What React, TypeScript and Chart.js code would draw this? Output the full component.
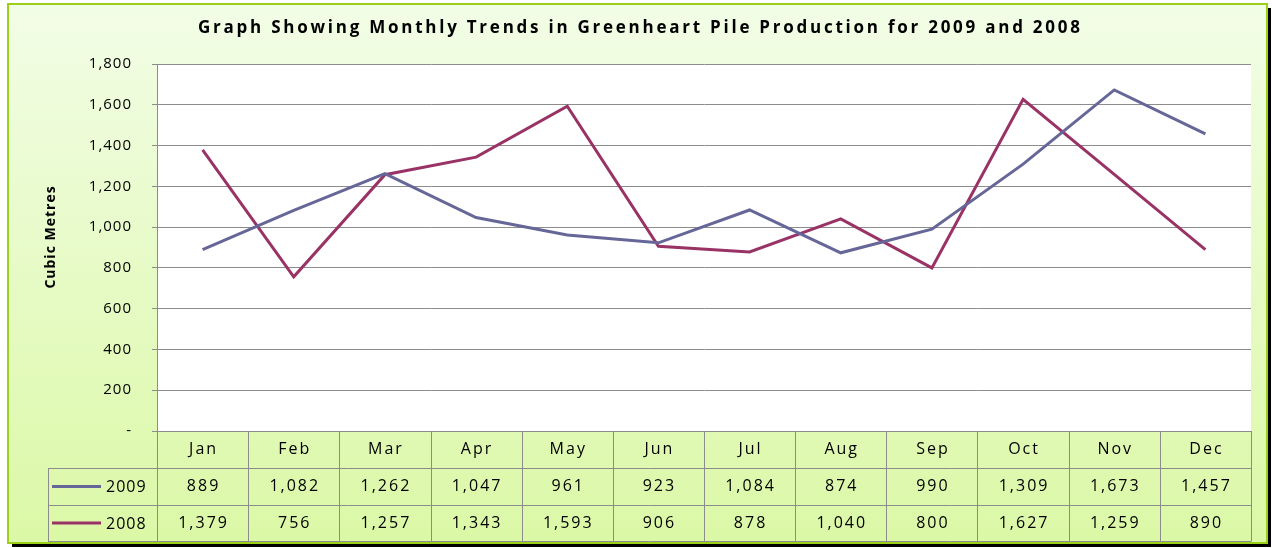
import React, { useEffect, useRef } from "react";
import { Chart, registerables } from "chart.js";

Chart.register(...registerables);

const months = ["Jan", "Feb", "Mar", "Apr", "May", "Jun", "Jul", "Aug", "Sep", "Oct", "Nov", "Dec"];
const series2009 = [889, 1082, 1262, 1047, 961, 923, 1084, 874, 990, 1309, 1673, 1457];
const series2008 = [1379, 756, 1257, 1343, 1593, 906, 878, 1040, 800, 1627, 1259, 890];
const seriesNames = ["2009", "2008"];
const seriesColors = ["#666699", "#993366"];
const yMin = 0;
const yMax = 1800;
const yStep = 200;
const titleText = "Graph Showing Monthly Trends in Greenheart Pile Production for 2009 and 2008";
const yAxisTitle = "Cubic Metres";

const FONT = '"Open Sans", "DejaVu Sans", sans-serif';
const GRID = "#8c8c8c";

function fmt(v: number): string {
  return v === 0 ? "-" : v.toLocaleString("en-US");
}

function fitSpacing(ctx: CanvasRenderingContext2D, text: string, target: number): number {
  (ctx as any).letterSpacing = "0px";
  const w = ctx.measureText(text).width;
  return (target - w) / Math.max(1, text.length - 1);
}

const decorPlugin = {
  id: "decor",
  beforeDraw(chart: any) {
    const ctx: CanvasRenderingContext2D = chart.ctx;
    const area = chart.chartArea;
    ctx.save();
    (ctx as any).letterSpacing = "0px";
    const fx = 8, fy = 4, fw = 1259, fh = 539;
    ctx.fillStyle = "#000";
    ctx.fillRect(fx + 4, fy + 4, fw, fh);
    const g = ctx.createLinearGradient(0, fy, 0, fy + fh);
    g.addColorStop(0, "#f2fde6");
    g.addColorStop(1, "#dbf8a6");
    ctx.fillStyle = g;
    ctx.fillRect(fx, fy, fw, fh);
    ctx.strokeStyle = "#9bcf1a";
    ctx.lineWidth = 2;
    ctx.strokeRect(fx, fy, fw, fh);
    ctx.fillStyle = "#ffffff";
    ctx.fillRect(area.left, area.top, area.right - area.left, area.bottom - area.top);
    ctx.fillStyle = "#000";
    ctx.font = "bold 17px " + FONT;
    const sp = fitSpacing(ctx, titleText, 882);
    (ctx as any).letterSpacing = sp + "px";
    ctx.textAlign = "left";
    ctx.textBaseline = "middle";
    ctx.fillText(titleText, 198, 28);
    ctx.font = "bold 14px " + FONT;
    (ctx as any).letterSpacing = "1px";
    ctx.textAlign = "center";
    ctx.translate(51, 237);
    ctx.rotate(-Math.PI / 2);
    ctx.fillText(yAxisTitle, 0, 0);
    ctx.restore();
    (ctx as any).letterSpacing = "1px";
  },
  afterDraw(chart: any) {
    const ctx: CanvasRenderingContext2D = chart.ctx;
    const area = chart.chartArea;
    const xs = chart.scales.x;
    const colW = (area.right - area.left) / months.length;
    const rows = [area.bottom, 468, 505, 541];
    const leftX = 48;
    ctx.save();
    ctx.strokeStyle = GRID;
    ctx.lineWidth = 1;
    ctx.beginPath();
    for (let r = 1; r < rows.length; r++) {
      ctx.moveTo(leftX, Math.round(rows[r]) + 0.5);
      ctx.lineTo(area.right, Math.round(rows[r]) + 0.5);
    }
    ctx.moveTo(area.left, Math.round(rows[0]) + 0.5);
    ctx.lineTo(area.right, Math.round(rows[0]) + 0.5);
    ctx.moveTo(leftX + 0.5, rows[1]);
    ctx.lineTo(leftX + 0.5, rows[3] + 0.5);
    for (let i = 0; i <= months.length; i++) {
      const x = Math.round(xs.getPixelForValue(i) - colW / 2) + 0.5;
      ctx.moveTo(x, rows[0]);
      ctx.lineTo(x, rows[3] + 0.5);
    }
    ctx.stroke();

    ctx.fillStyle = "#000";
    ctx.textAlign = "center";
    ctx.textBaseline = "middle";
    ctx.font = "16px " + FONT;
    (ctx as any).letterSpacing = "2px";
    const seriesData = [series2009, series2008];
    months.forEach((m, i) => {
      const cx = xs.getPixelForValue(i) + 1;
      ctx.fillText(m, cx, (rows[0] + rows[1]) / 2);
      seriesData.forEach((arr, s) => {
        ctx.fillText(fmt(arr[i]), cx, (rows[s + 1] + rows[s + 2]) / 2);
      });
    });
    seriesNames.forEach((name, s) => {
      const cy = (rows[s + 1] + rows[s + 2]) / 2;
      ctx.strokeStyle = seriesColors[s];
      ctx.lineWidth = 3;
      ctx.beginPath();
      ctx.moveTo(52, cy);
      ctx.lineTo(101, cy);
      ctx.stroke();
      ctx.textAlign = "left";
      (ctx as any).letterSpacing = "1px";
      ctx.fillText(name, 106, cy + 1);
    });
    ctx.restore();
  },
};

export default function App() {
  const ref = useRef<HTMLCanvasElement | null>(null);
  useEffect(() => {
    if (!ref.current) return;
    const chart = new Chart(ref.current, {
      type: "line",
      data: {
        labels: months,
        datasets: [
          {
            label: seriesNames[0],
            data: series2009,
            borderColor: seriesColors[0],
            backgroundColor: seriesColors[0],
            borderWidth: 3,
            pointRadius: 0,
            tension: 0,
          },
          {
            label: seriesNames[1],
            data: series2008,
            borderColor: seriesColors[1],
            backgroundColor: seriesColors[1],
            borderWidth: 3,
            pointRadius: 0,
            tension: 0,
          },
        ],
      },
      options: {
        animation: false,
        responsive: true,
        maintainAspectRatio: false,
        devicePixelRatio: 1,
        layout: { autoPadding: false, padding: { left: 77, top: 64, right: 21, bottom: 117 } },
        plugins: { legend: { display: false }, title: { display: false }, tooltip: { enabled: false } },
        scales: {
          x: { display: false, offset: true, grid: { offset: true } },
          y: {
            min: yMin,
            max: yMax,
            afterFit: (scale: any) => {
              scale.width = 80;
            },
            ticks: {
              stepSize: yStep,
              padding: 20,
              color: "#000",
              font: { family: FONT, size: 15 },
              callback: (v: any) => fmt(Number(v)),
            },
            grid: { color: GRID, tickLength: 5, lineWidth: 1 },
            border: { display: true, color: GRID },
          },
        },
      },
      plugins: [decorPlugin],
    });
    return () => chart.destroy();
  }, []);
  return (
    <div style={{ position: "absolute", left: 0, top: 0, width: 1272, height: 548 }}>
      <canvas ref={ref} />
    </div>
  );
}
